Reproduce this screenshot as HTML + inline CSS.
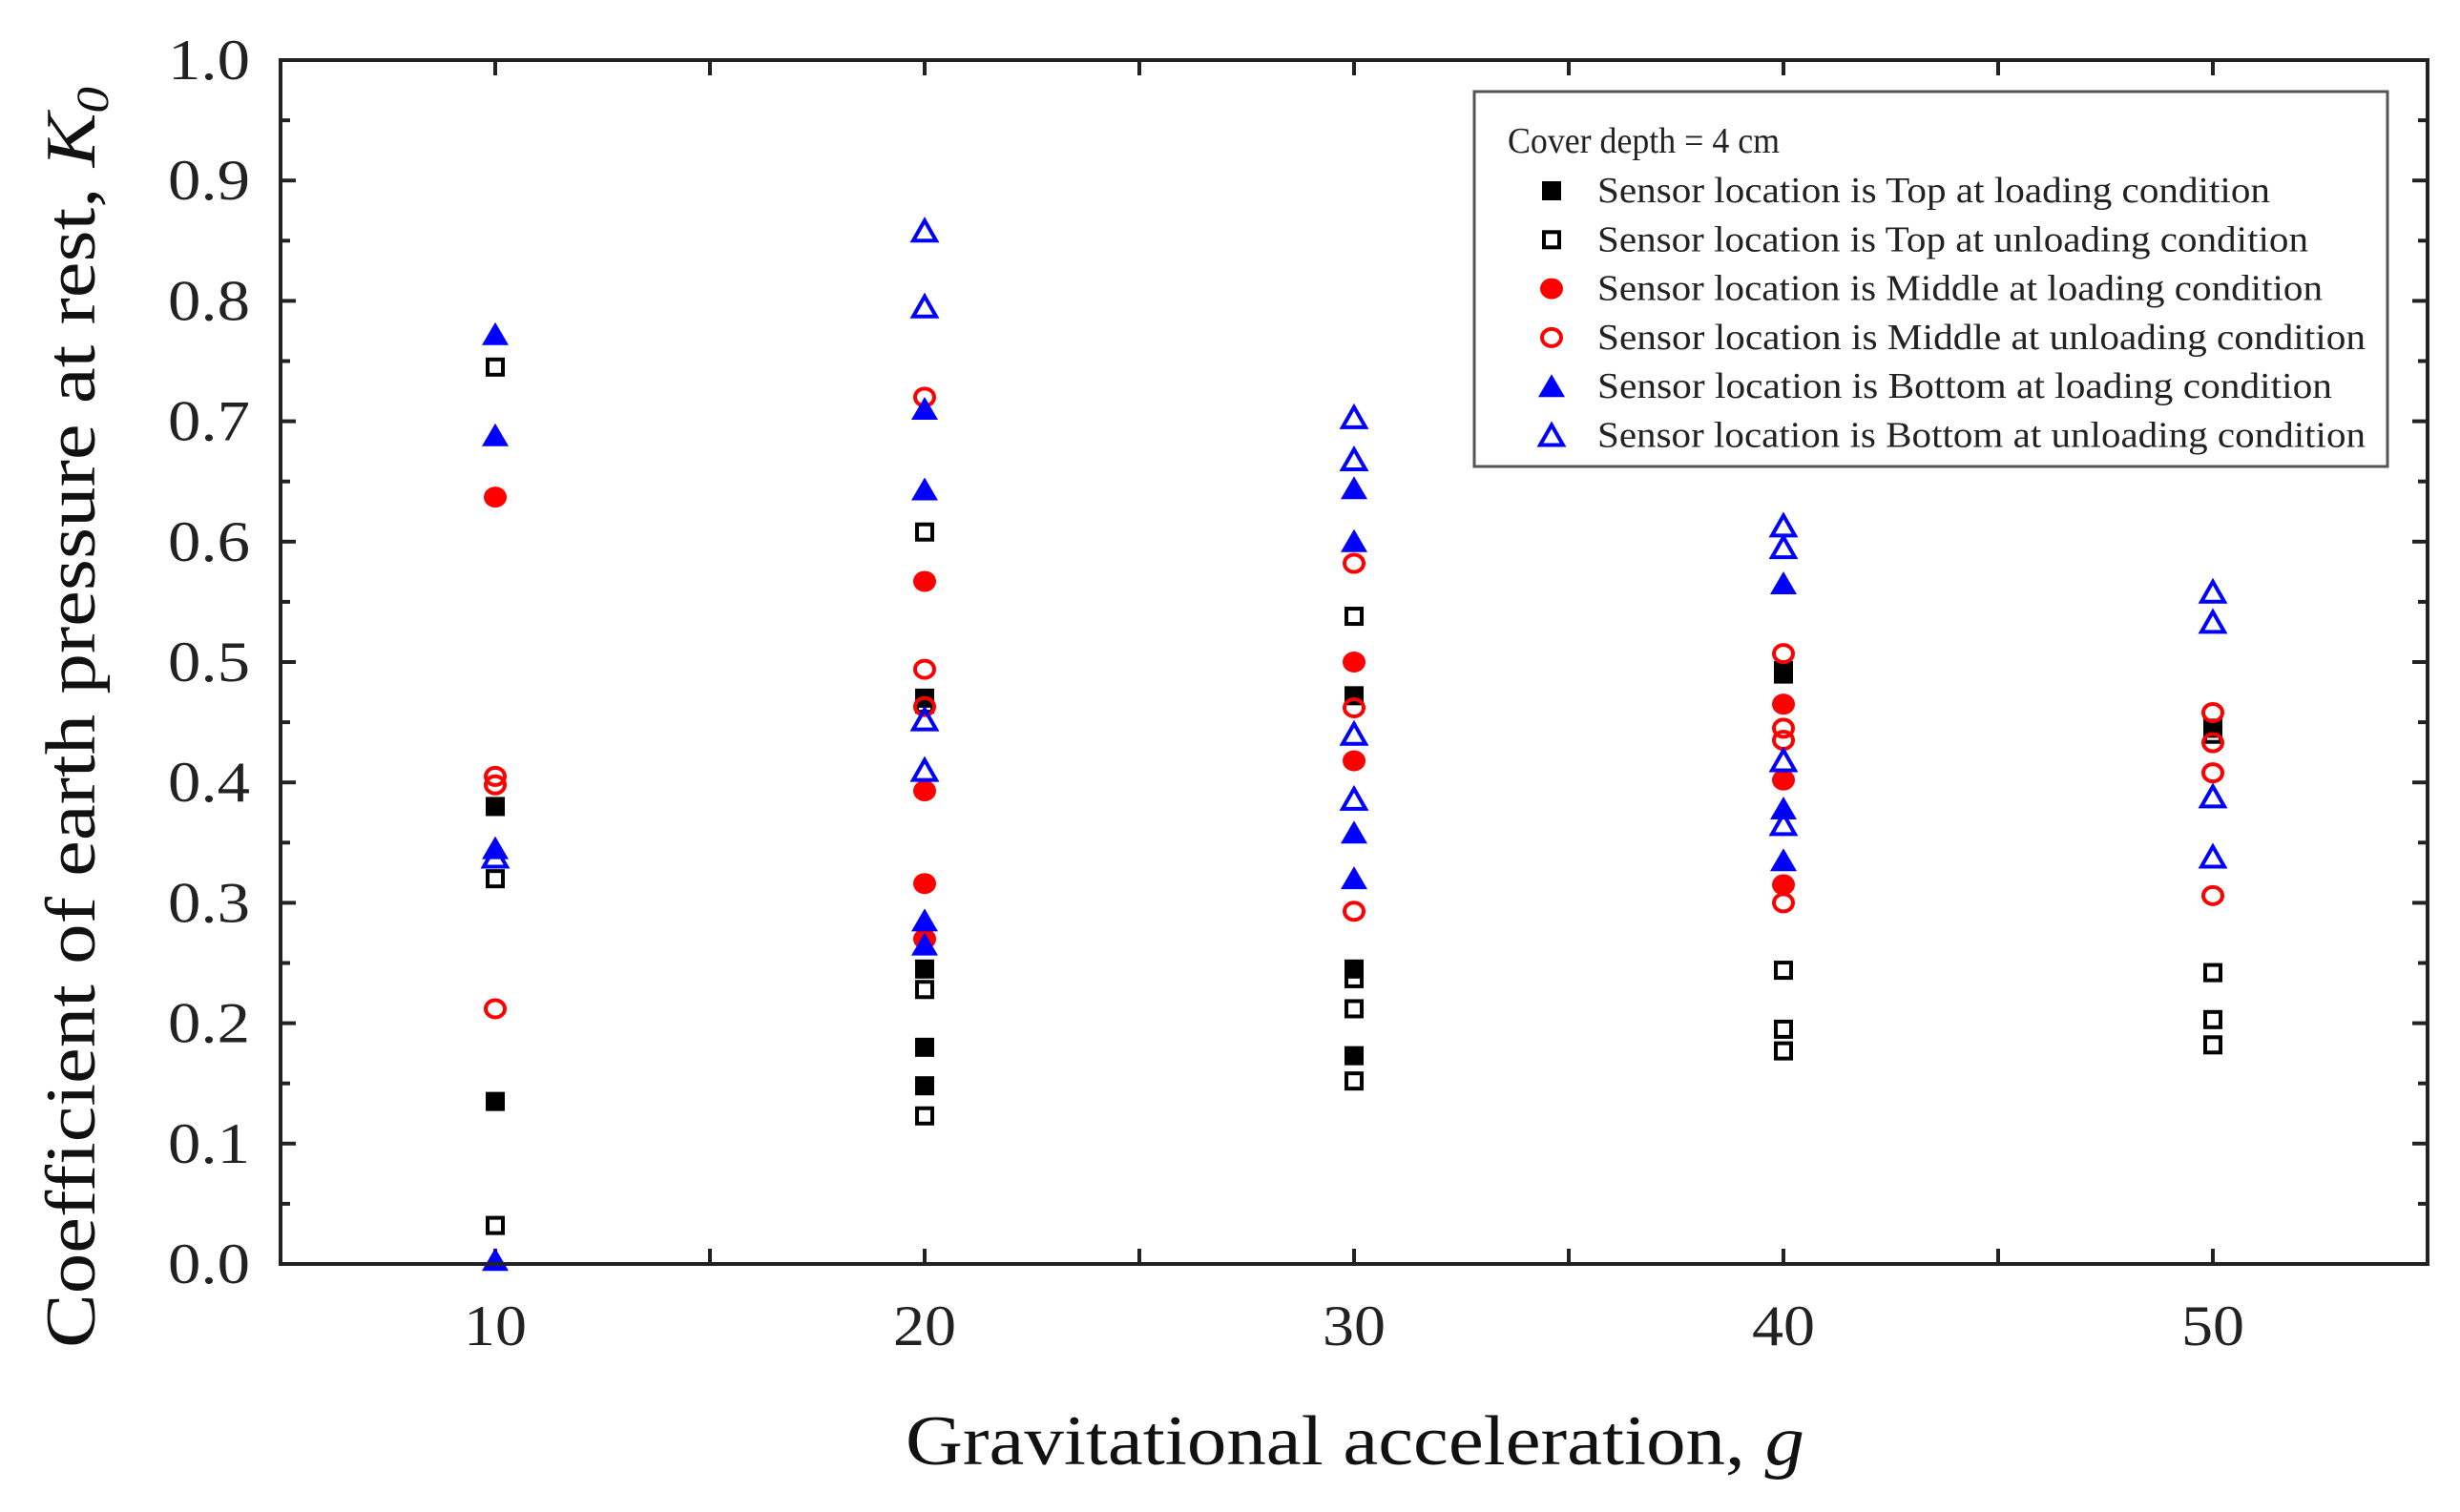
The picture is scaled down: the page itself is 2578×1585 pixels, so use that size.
<!DOCTYPE html>
<html><head><meta charset="utf-8"><style>
html,body{margin:0;padding:0;background:#fff;}
svg{display:block;font-family:"Liberation Serif",serif;}
</style></head><body>
<svg id="chart" width="2578" height="1585" viewBox="0 0 2578 1585" xmlns="http://www.w3.org/2000/svg">
<rect x="0" y="0" width="2578" height="1585" fill="#fff"/>
<g id="ticks"></g>
<g id="marks"></g>
<rect x="294" y="63" width="2250" height="1262" fill="none" stroke="#222" stroke-width="4"/>
<text x="1420" y="1535" font-size="74" text-anchor="middle" textLength="942" lengthAdjust="spacingAndGlyphs" fill="#111">Gravitational acceleration, <tspan font-style="italic">g</tspan></text>
<text transform="translate(99,752) rotate(-90)" font-size="74" text-anchor="middle" fill="#111" textLength="1322" lengthAdjust="spacingAndGlyphs">Coefficient of earth pressure at rest, <tspan font-style="italic">K</tspan><tspan font-style="italic" font-size="48" dy="14">0</tspan></text>
<g>
<rect x="1545" y="96" width="957" height="393" fill="#fff" stroke="#555" stroke-width="3"/>
<text x="1580" y="160" font-size="38" fill="#222" textLength="285" lengthAdjust="spacingAndGlyphs">Cover depth = 4 cm</text>
<g id="legend-items"></g>
</g>
</svg>
<script>
const xCats=[10,20,30,40,50];
const topLoad=[[0.38,0.135],[0.47,0.245,0.18,0.148],[0.472,0.245,0.173],[0.49],[0.445]];
const topUnload=[[0.745,0.32,0.032],[0.608,0.465,0.228,0.123],[0.538,0.237,0.212,0.152],[0.493,0.244,0.195,0.177],[0.44,0.242,0.203,0.182]];
const midLoad=[[0.637],[0.567,0.393,0.316,0.27],[0.5,0.418],[0.465,0.402,0.315],[]];
const midUnload=[[0.405,0.398,0.212],[0.72,0.494,0.463],[0.582,0.462,0.293],[0.507,0.445,0.435,0.3],[0.458,0.433,0.408,0.306]];
const botLoad=[[0.772,0.688,0.345,0.003],[0.71,0.643,0.285,0.265],[0.644,0.6,0.358,0.32],[0.565,0.378,0.335],[]];
const botUnload=[[0.338],[0.858,0.795,0.452,0.41],[0.703,0.668,0.44,0.386],[0.613,0.595,0.418,0.365],[0.558,0.533,0.388,0.338]];
const yTicks=["0.0","0.1","0.2","0.3","0.4","0.5","0.6","0.7","0.8","0.9","1.0"];
const xTicks=["10","20","30","40","50"];
const legendLabels=["Sensor location is Top at loading condition","Sensor location is Top at unloading condition","Sensor location is Middle at loading condition","Sensor location is Middle at unloading condition","Sensor location is Bottom at loading condition","Sensor location is Bottom at unloading condition"];

const NS="http://www.w3.org/2000/svg";
const X0=294,X1=2544,Y0=1325,Y1=63;
function sx(v){return X0+(v-5)/50*(X1-X0);}
function sy(v){return Y0-v*(Y0-Y1);}
function mk(t,a,p){const e=document.createElementNS(NS,t);for(const k in a)e.setAttribute(k,a[k]);p.appendChild(e);return e;}
const tg=document.getElementById('ticks');
for(let i=0;i<=20;i++){const v=i*0.05,y=sy(v),L=(i%2===0)?16:10;
 const a=mk('line',{x1:X0,x2:X0+L,y1:y,y2:y,stroke:'#222','stroke-width':4},tg);
 
 const b=mk('line',{x1:X1,x2:X1-L,y1:y,y2:y,stroke:'#222','stroke-width':4},tg);
 }
yTicks.forEach((t,i)=>{const e=mk('text',{x:262,y:sy(i*0.1)+20,'font-size':60,'text-anchor':'end',fill:'#222',textLength:86,lengthAdjust:'spacingAndGlyphs'},tg);e.textContent=t;
 });
for(let v=10;v<=50;v+=5){const x=sx(v),L=16;
 const a=mk('line',{x1:x,x2:x,y1:Y0,y2:Y0-L,stroke:'#222','stroke-width':4},tg);
 
 const b=mk('line',{x1:x,x2:x,y1:Y1,y2:Y1+L,stroke:'#222','stroke-width':4},tg);
 }
xTicks.forEach((t,i)=>{const e=mk('text',{x:sx(xCats[i]),y:1410,'font-size':60,'text-anchor':'middle',fill:'#222',textLength:66,lengthAdjust:'spacingAndGlyphs'},tg);e.textContent=t;
 });

function marker(kind,x,y,p){let e;
 if(kind==='sf')e=mk('rect',{x:x-10,y:y-10,width:20,height:20,fill:'#000'},p);
 else if(kind==='so')e=mk('rect',{x:x-8,y:y-8,width:16,height:16,fill:'none',stroke:'#000','stroke-width':4},p);
 else if(kind==='cf')e=mk('ellipse',{cx:x,cy:y,rx:12,ry:11,fill:'#f00'},p);
 else if(kind==='co')e=mk('ellipse',{cx:x,cy:y,rx:10,ry:9,fill:'none',stroke:'#f00','stroke-width':4},p);
 else if(kind==='tf')e=mk('polygon',{points:`${x},${y-13} ${x+14},${y+11} ${x-14},${y+11}`,fill:'#00f'},p);
 else e=mk('polygon',{points:`${x},${y-11} ${x+12},${y+10} ${x-12},${y+10}`,fill:'none',stroke:'#00f','stroke-width':4,'stroke-linejoin':'miter'},p);
 return e;}
const series=[['sf',topLoad,'top-loading'],['so',topUnload,'top-unloading'],['cf',midLoad,'middle-loading'],['co',midUnload,'middle-unloading'],['tf',botLoad,'bottom-loading'],['to',botUnload,'bottom-unloading']];
const mg=document.getElementById('marks');
series.forEach(([k,data,name])=>{const g=mk('g',{},mg);
 
 data.forEach((vals,i)=>vals.forEach(v=>{const e=marker(k,sx(xCats[i]),sy(v),g);
  }));});
const lg=document.getElementById('legend-items');
const lw=[705,745,760,805,770,805];
legendLabels.forEach((t,i)=>{const y=212+i*51.3;
 const m=marker(series[i][0],1626,y-12,lg);
 
 const e=mk('text',{x:1674,y:y,'font-size':38,fill:'#222',textLength:lw[i],lengthAdjust:'spacingAndGlyphs'},lg);e.textContent=t;
 });
</script>
</body></html>
